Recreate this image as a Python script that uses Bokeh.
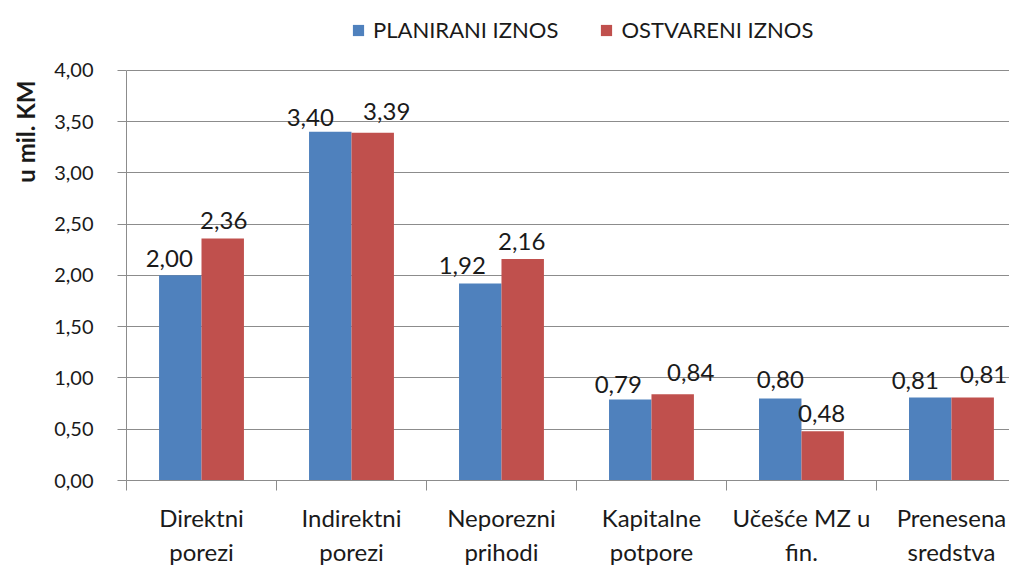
from bokeh.plotting import figure
from bokeh.models import (ColumnDataSource, FixedTicker, Range1d, Legend, LegendItem, Title)
from bokeh.core.properties import value
from bokeh.embed import file_html
from bokeh.resources import INLINE

# ---- data ----
categories = ["Direktni\nporezi", "Indirektni\nporezi", "Neporezni\nprihodi",
              "Kapitalne\npotpore", "Učešće MZ u\nfin.", "Prenesena\nsredstva"]
planirani = [2.00, 3.40, 1.92, 0.79, 0.80, 0.81]
ostvareni = [2.36, 3.39, 2.16, 0.84, 0.48, 0.81]
series_names = ["PLANIRANI IZNOS", "OSTVARENI IZNOS"]
y_ticks = [0.0, 0.5, 1.0, 1.5, 2.0, 2.5, 3.0, 3.5, 4.0]
y_tick_labels = ["0,00", "0,50", "1,00", "1,50", "2,00", "2,50", "3,00", "3,50", "4,00"]
y_title = "u mil. KM"

# ---- style ----
BLUE = "#4F81BD"
RED = "#C0504D"
GRID = "#8C8C8C"
TXT = "#1a1a1a"
FONT = "Lato"
bar_w = 0.283
# headroom above the top tick so the legend sits inside the drawing area
Y_TOP = 4.68
# label placement tweaks (pixels), as in the original manually placed labels
blue_dx = [-11, -20, -18, -12, 0, -15]
blue_dy = [17, 14, 18, 15, 19, 17]
red_dx = [1, 14, -1, 18, -1, 11]
red_dy = [18, 21, 17, 22, 18, 23]

def fmt(v):
    return f"{v:.2f}".replace(".", ",")

n = len(categories)
idx = list(range(n))

p = figure(width=1009, height=569, output_backend="svg", toolbar_location=None,
           x_range=Range1d(-0.5, 5.387), y_range=Range1d(0, Y_TOP),
           min_border_left=126, min_border_top=0, min_border_bottom=87,
           min_border_right=0)
p.outline_line_color = None
p.background_fill_color = "white"

src_b = ColumnDataSource(dict(x=[i - bar_w / 2 for i in idx], top=planirani,
                              lbl=[fmt(v) for v in planirani],
                              dx=blue_dx, dy=[-d for d in blue_dy]))
src_r = ColumnDataSource(dict(x=[i + bar_w / 2 for i in idx], top=ostvareni,
                              lbl=[fmt(v) for v in ostvareni],
                              dx=red_dx, dy=[-d for d in red_dy]))

rb = p.vbar(x="x", top="top", width=bar_w, bottom=0, source=src_b,
            fill_color=BLUE, line_color=None)
rr = p.vbar(x="x", top="top", width=bar_w, bottom=0, source=src_r,
            fill_color=RED, line_color=None)

for s in (src_b, src_r):
    p.text(x="x", y="top", text="lbl", source=s, x_offset="dx", y_offset="dy",
           text_align="center", text_baseline="alphabetic",
           text_font=value(FONT), text_font_size="24px", text_color=TXT)

# axes
xa = p.xaxis[0]
xa.ticker = FixedTicker(ticks=idx, minor_ticks=[i - 0.5 for i in range(n + 1)])
xa.major_label_overrides = {i: c for i, c in zip(idx, categories)}
xa.major_tick_out = 0
xa.major_tick_in = 0
xa.minor_tick_out = 10
xa.minor_tick_in = 0
xa.minor_tick_line_color = GRID
xa.axis_line_color = GRID
xa.major_label_standoff = 12
xa.major_label_text_font = FONT
xa.major_label_text_font_size = "24px"
xa.major_label_text_color = TXT

ya = p.yaxis[0]
ya.ticker = FixedTicker(ticks=y_ticks)
ya.bounds = (y_ticks[0], y_ticks[-1])
ya.major_label_overrides = {t: l for t, l in zip(y_ticks, y_tick_labels)}
ya.major_tick_out = 9
ya.major_tick_in = 0
ya.minor_tick_out = 0
ya.minor_tick_in = 0
ya.major_tick_line_color = GRID
ya.axis_line_color = GRID
ya.major_label_standoff = 24
ya.major_label_text_font = FONT
ya.major_label_text_font_size = "20px"
ya.major_label_text_color = TXT

p.xgrid.visible = False
p.ygrid.ticker = FixedTicker(ticks=y_ticks)
p.ygrid.grid_line_color = GRID

t = Title(text=y_title, align="right", vertical_align="top", text_font=FONT,
          text_font_size="24px", text_font_style="bold", text_color=TXT,
          standoff=20, offset=80)
p.add_layout(t, "left")

legend = Legend(items=[LegendItem(label=series_names[0], renderers=[rb]),
                       LegendItem(label=series_names[1], renderers=[rr])],
                orientation="horizontal", location=(225, 437),
                padding=0, margin=0, spacing=41, label_standoff=8,
                glyph_width=14, glyph_height=14,
                label_text_font=FONT, label_text_font_size="22px",
                label_text_color=TXT, border_line_color=None,
                background_fill_alpha=0)
p.add_layout(legend, "center")

open("out.html", "w").write(file_html(p, INLINE))
